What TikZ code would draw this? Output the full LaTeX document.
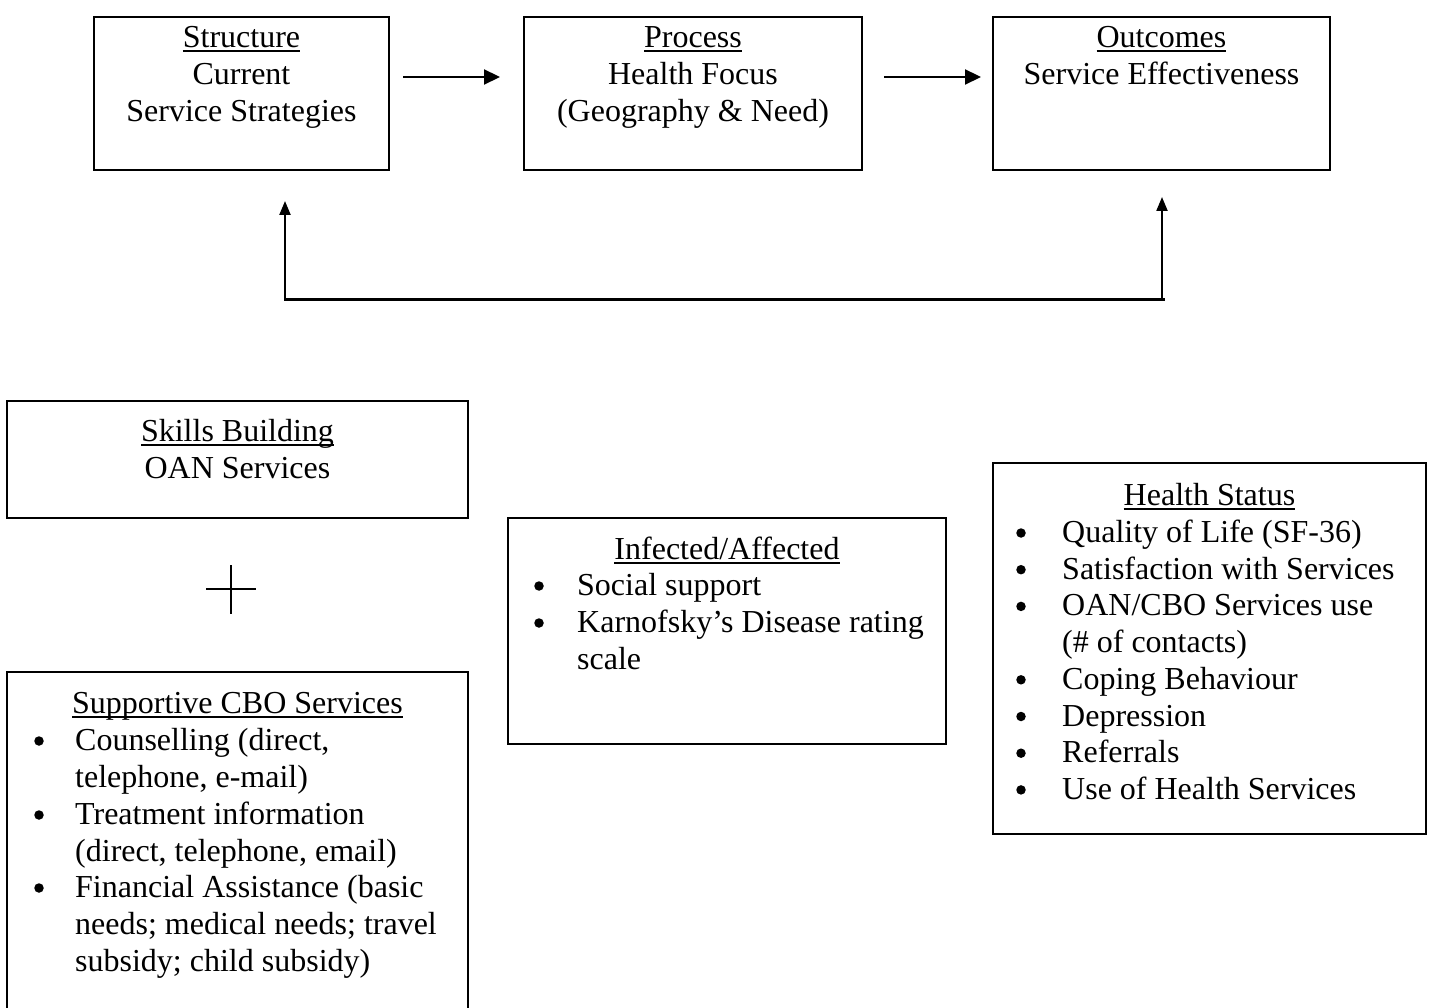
\documentclass[tikz,border=0pt]{standalone}
\usepackage{fontspec}
\setmainfont{Liberation Serif}
\usetikzlibrary{arrows.meta}
\newcommand\ulx[1]{\setbox0\hbox{#1}\rlap{\rule[-4.5pt]{\wd0}{2pt}}\box0}
\tikzset{
  box/.style={draw, line width=2.4pt, inner sep=0pt},
  txt/.style={anchor=base, inner sep=0pt, font=\fontsize{32pt}{37pt}\selectfont},
  ltxt/.style={anchor=base west, inner sep=0pt, font=\fontsize{32pt}{37pt}\selectfont},
  dot/.style={circle, fill, inner sep=0pt, minimum size=9.5pt},
  arr/.style={line width=2.2pt, -{Triangle[length=16pt,width=15pt]}},
  fb/.style={line width=2.2pt, {Triangle[length=14pt,width=11pt]}-{Triangle[length=14pt,width=11pt]}},
}
\begin{document}
\begin{tikzpicture}[x=1pt,y=-1pt]
\useasboundingbox (0,0) rectangle (1433,1008);
% top boxes
\node[box, minimum width=295pt, minimum height=153pt] (s) at (241.5,93.5) {};
\node[box, minimum width=338pt, minimum height=153pt] (p) at (693,93.5) {};
\node[box, minimum width=337pt, minimum height=153pt] (o) at (1161.5,93.5) {};
\node[txt] (s1) at (241.5,47.5) {\ulx{Structure}};
\node[txt] (s2) at (241.5,84.5) {Current};
\node[txt] (s3) at (241.5,121.5) {Service Strategies};
\node[txt] (p1) at (693,47.5) {\ulx{Process}};
\node[txt] (p2) at (693,84.5) {Health Focus};
\node[txt] (p3) at (693,121.5) {(Geography \& Need)};
\node[txt] (o1) at (1161.5,47.5) {\ulx{Outcomes}};
\node[txt] (o2) at (1161.5,84.5) {Service Effectiveness};
% arrows between top boxes
\coordinate (a1s) at (403,77); \coordinate (a1e) at (500,77);
\coordinate (a2s) at (884,77); \coordinate (a2e) at (981,77);
\draw[arr] (a1s) -- (a1e);
\draw[arr] (a2s) -- (a2e);
% feedback loop
\coordinate (fbl) at (285,201);
\coordinate (fbr) at (1162,197);
\coordinate (fbbl) at (285,300);
\coordinate (fbbr) at (1162,300);
\draw[fb] (fbl) -- (fbbl) -- (fbbr) -- (fbr);
\draw[line width=3pt] (fbbl) -- ([xshift=3pt]fbbr);
% skills building
\node[box, minimum width=461pt, minimum height=117pt] (sk) at (237.5,459.5) {};
\node[txt] (sk1) at (237.5,441.5) {\ulx{Skills Building}};
\node[txt] (sk2) at (237.5,478.5) {OAN Services};
% plus
\coordinate (pv1) at (231,565); \coordinate (pv2) at (231,614);
\coordinate (ph1) at (206,589); \coordinate (ph2) at (256,589);
\draw[line width=2.6pt] (pv1) -- (pv2);
\draw[line width=2.6pt] (ph1) -- (ph2);
% supportive CBO
\node[box, minimum width=461pt, minimum height=350pt] (cb) at (237.5,847) {};
\node[txt] (cb0) at (237.5,713.5) {\ulx{Supportive CBO Services}};
\node[dot] (d1) at (39,741) {};
\node[ltxt] (cb1) at (75,750.5) {Counselling (direct,};
\node[ltxt] (cb2) at (75,787.5) {telephone, e-mail)};
\node[dot] (d2) at (39,815) {};
\node[ltxt] (cb3) at (75,824.5) {Treatment information};
\node[ltxt] (cb4) at (75,861.5) {(direct, telephone, email)};
\node[dot] (d3) at (39,888) {};
\node[ltxt] (cb5) at (75,897.5) {Financial Assistance (basic};
\node[ltxt] (cb6) at (75,934.5) {needs; medical needs; travel};
\node[ltxt] (cb7) at (75,971.5) {subsidy; child subsidy)};
% infected/affected
\node[box, minimum width=438pt, minimum height=226pt] (ia) at (727,631) {};
\node[txt] (ia0) at (727,559.5) {\ulx{Infected/Affected}};
\node[dot] (d4) at (539,586) {};
\node[ltxt] (ia1) at (577,595.5) {Social support};
\node[dot] (d5) at (539,623) {};
\node[ltxt] (ia2) at (577,632.5) {Karnofsky’s Disease rating};
\node[ltxt] (ia3) at (577,669.5) {scale};
% health status
\node[box, minimum width=433pt, minimum height=371pt] (hs) at (1209.5,648.5) {};
\node[txt] (hs0) at (1209.5,505.5) {\ulx{Health Status}};
\node[dot] (d6) at (1021,533) {};
\node[ltxt] (hs1) at (1062,542.5) {Quality of Life (SF-36)};
\node[dot] (d7) at (1021,569.7) {};
\node[ltxt] (hs2) at (1062,579.2) {Satisfaction with Services};
\node[dot] (d8) at (1021,606.4) {};
\node[ltxt] (hs3) at (1062,615.9) {OAN/CBO Services use};
\node[ltxt] (hs4) at (1062,652.6) {(\# of contacts)};
\node[dot] (d9) at (1021,679.8) {};
\node[ltxt] (hs5) at (1062,689.3) {Coping Behaviour};
\node[dot] (d10) at (1021,716.5) {};
\node[ltxt] (hs6) at (1062,726) {Depression};
\node[dot] (d11) at (1021,753.2) {};
\node[ltxt] (hs7) at (1062,762.7) {Referrals};
\node[dot] (d12) at (1021,789.9) {};
\node[ltxt] (hs8) at (1062,799.4) {Use of Health Services};
\end{tikzpicture}
\end{document}
